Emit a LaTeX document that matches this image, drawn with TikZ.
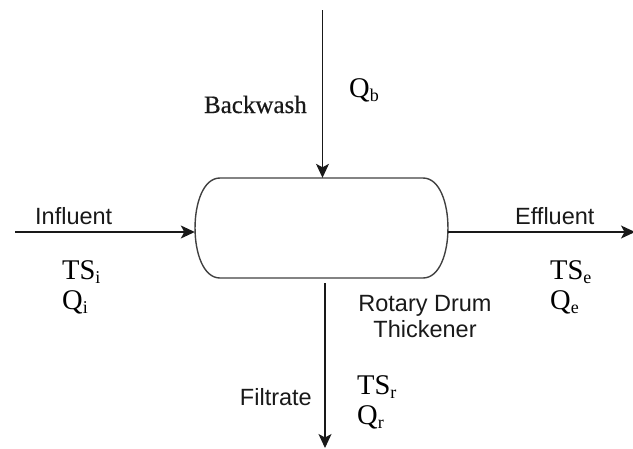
\documentclass[tikz,border=0pt]{standalone}
\usepackage{fontspec}
\setmainfont{Liberation Serif}
\newfontfamily\lsans{Liberation Sans}
\newfontfamily\bwfont[FakeBold=0.6]{Liberation Serif}
\usetikzlibrary{arrows.meta}
\newcommand\subs[1]{\raisebox{-4pt}{\fontsize{18}{18}\selectfont #1}}
\tikzset{
  flow/.style={draw=black!90, line width=1.2pt, -{Stealth[length=14pt,width=13pt,inset=3.5pt]}},
  drumline/.style={draw=black!75, line width=1.4pt},
  sanslbl/.style={font=\lsans\fontsize{23.5}{26}\selectfont, inner sep=0pt, text=black!90},
  serlbl/.style={font=\fontsize{28.5}{30}\selectfont, inner sep=0pt, anchor=base west},
}
\begin{document}
\begin{tikzpicture}[x=1pt,y=-1pt]
\useasboundingbox (0,0) rectangle (633,448);
% drum
\node[minimum width=253pt, minimum height=100pt, inner sep=0pt] (drum) at (321.5,228) {};
\draw[drumline] (220,178) -- (423,178) .. controls (456.3,178) and (456.3,278) .. (423,278)
  -- (220,278) .. controls (186.7,278) and (186.7,178) .. (220,178);
% connectors
\coordinate (inS) at (15,232);
\draw[flow] (inS) -- (inS -| drum.west);
\coordinate (outE) at (635,232);
\draw[flow] (drum.east |- outE) -- (outE);
\coordinate (bwS) at (322.5,10);
\draw[flow] (bwS) -- (bwS |- drum.north);
\coordinate (fE) at (325,448);
\draw[flow] ([yshift=-5pt]drum.south -| fE) -- (fE);
% labels
\node[sanslbl, anchor=base west] (inl) at (35,224) {Influent};
\node[sanslbl, anchor=base west] (efl) at (515,224) {Effluent};
\node[serlbl] (tsi) at (62,279) {TS\subs{i}};
\node[serlbl] (qi) at (62,309) {Q\subs{i}};
\node[serlbl] (tse) at (550,279) {TS\subs{e}};
\node[serlbl] (qe) at (550,309) {Q\subs{e}};
\node[anchor=base east, font=\bwfont\fontsize{25}{30}\selectfont, inner sep=0pt, text=black!90] (bw) at (307,113) {Backwash};
\node[serlbl] (qb) at (349,97) {Q\subs{b}};
\node[sanslbl, align=center, anchor=north] (rdt) at (425,295) {Rotary Drum\\Thickener};
\node[sanslbl, anchor=base east] (fil) at (312,405) {Filtrate};
\node[serlbl] (tsr) at (357,394) {TS\subs{r}};
\node[serlbl] (qr) at (357,424) {Q\subs{r}};
\end{tikzpicture}
\end{document}
